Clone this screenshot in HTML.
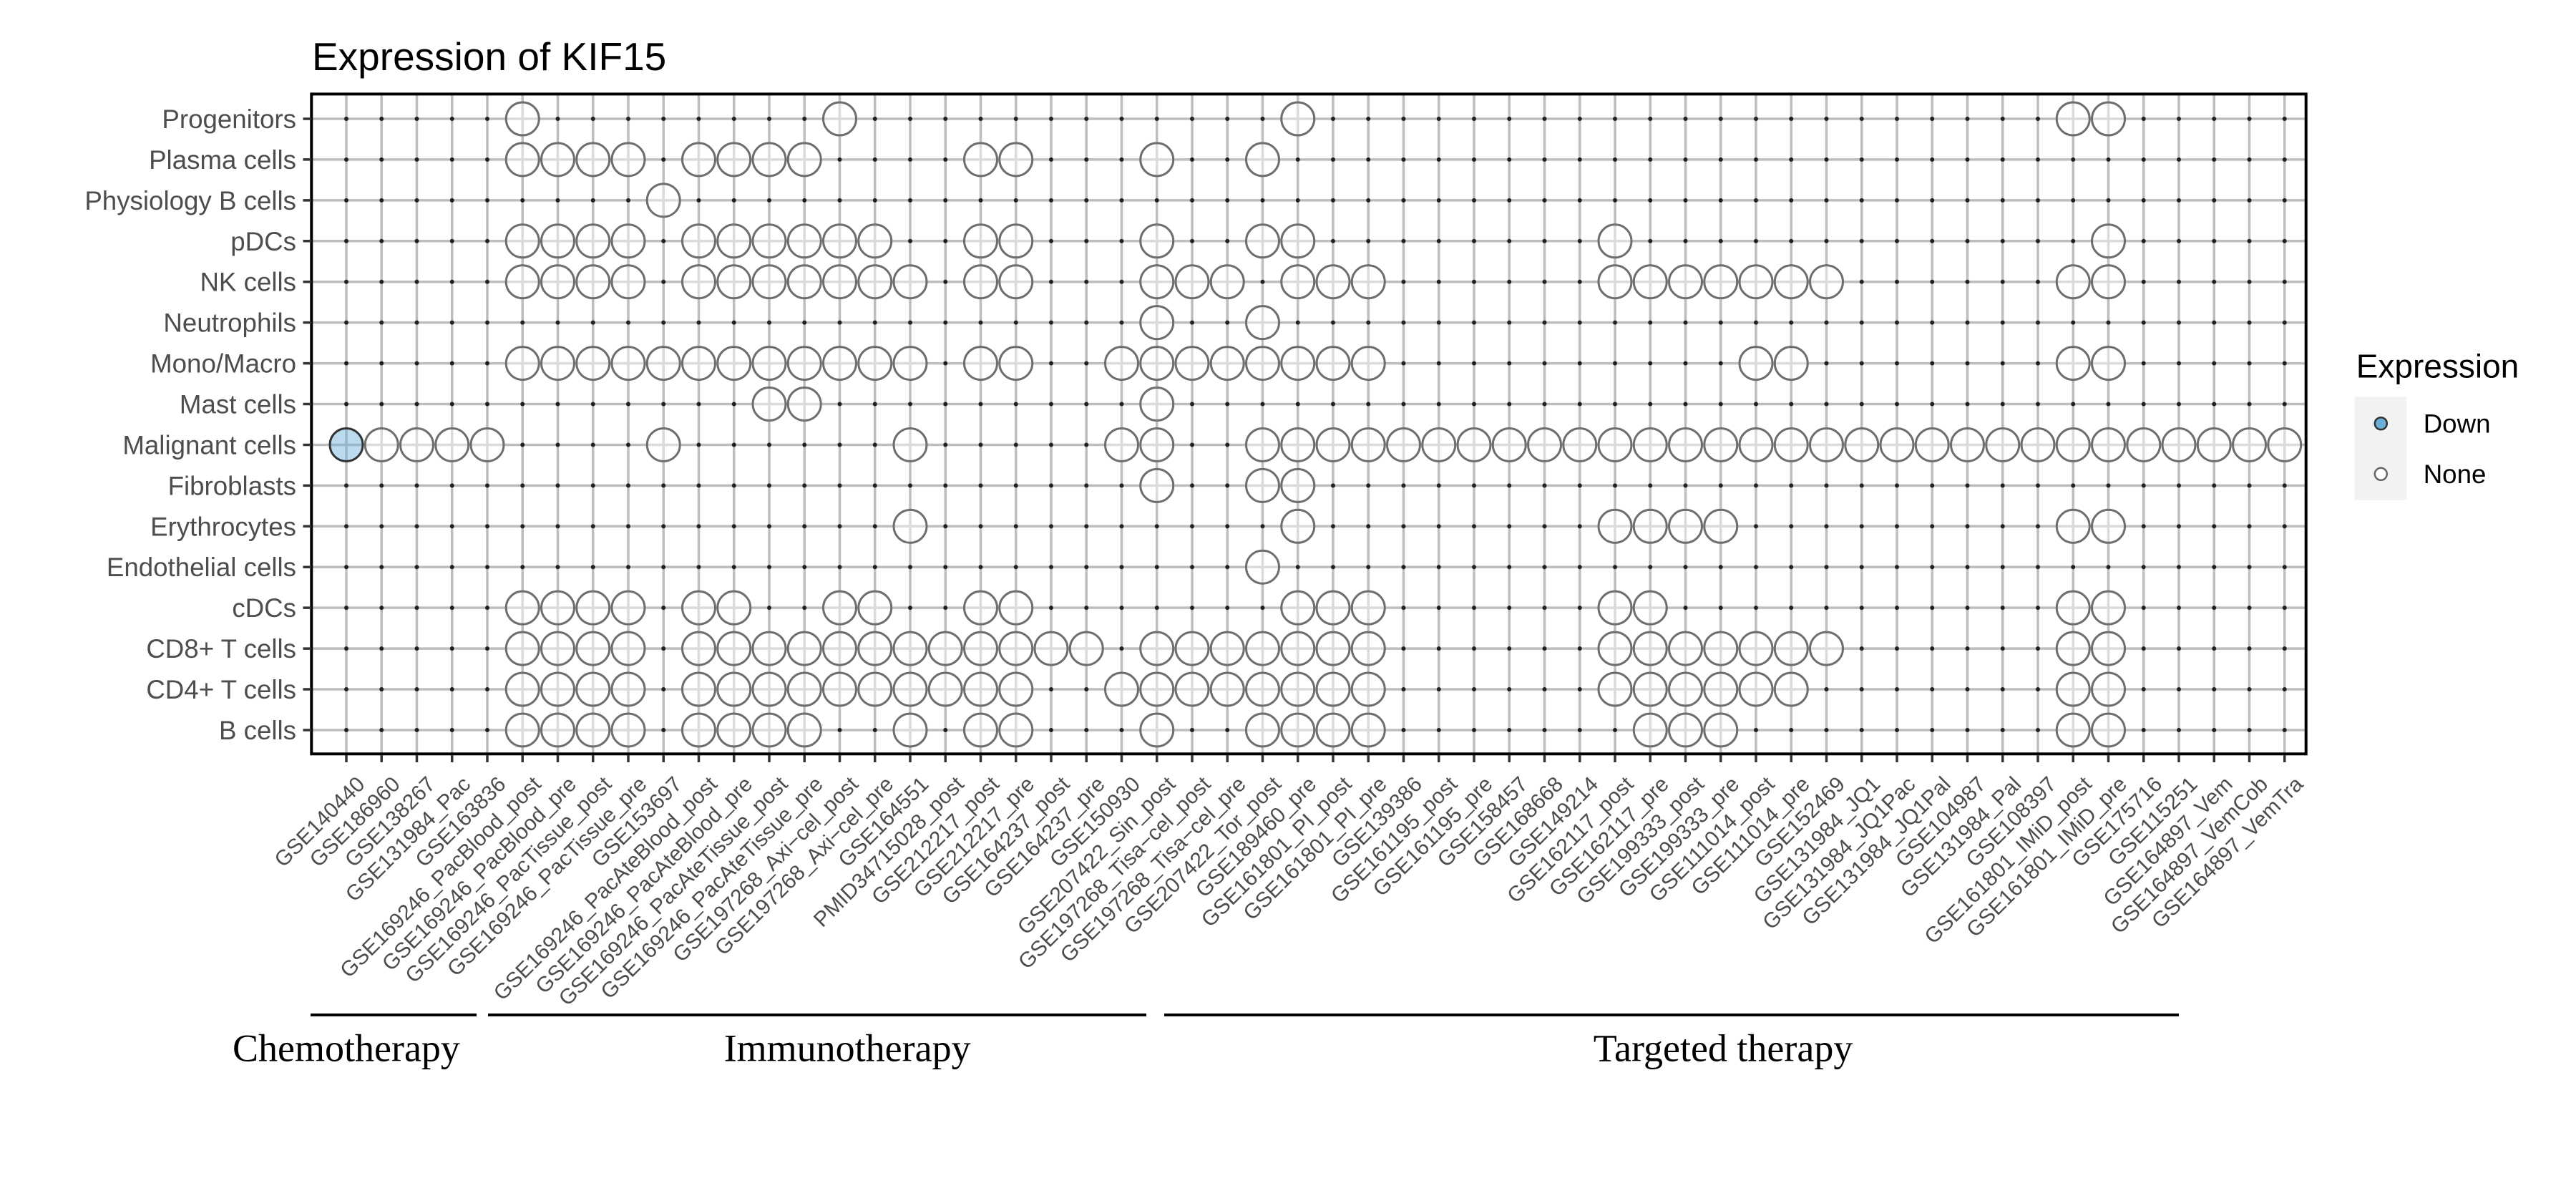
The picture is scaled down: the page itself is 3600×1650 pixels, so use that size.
<!DOCTYPE html>
<html><head><meta charset="utf-8"><style>
html,body{margin:0;padding:0;background:#fff;}
svg{display:block;}
text{font-family:"Liberation Sans",Arial,sans-serif;}
.yl{font-size:36.7px;fill:#4d4d4d;text-anchor:end;}
.xl{font-size:30px;fill:#4d4d4d;text-anchor:end;}
.grp{font-family:"Liberation Serif","Times New Roman",serif;font-size:54px;fill:#000;}
</style></head><body>
<svg width="3600" height="1650" viewBox="0 0 3600 1650" xmlns="http://www.w3.org/2000/svg">
<defs>
<pattern id="dots" patternUnits="userSpaceOnUse" x="459.375" y="137.535" width="49.25" height="56.93">
<circle cx="24.625" cy="28.465" r="3" fill="#1f1f1f"/>
</pattern>
<g id="n"><circle r="4.8" fill="#fff"/><path d="M-6 0H6M0 -6V6" stroke="#bebebe" stroke-width="3.5"/><circle r="23" fill="#fff" fill-opacity="0.45" stroke="#6e6e6e" stroke-width="3"/></g>
</defs>
<rect width="3600" height="1650" fill="#fff"/>
<text x="436" y="98" style="font-size:55px;fill:#000">Expression of KIF15</text>

<!-- grid -->
<path stroke="#bebebe" stroke-width="3.5" fill="none" d="M484 131V1053M533.25 131V1053M582.5 131V1053M631.75 131V1053M681 131V1053M730.25 131V1053M779.5 131V1053M828.75 131V1053M878 131V1053M927.25 131V1053M976.5 131V1053M1025.75 131V1053M1075 131V1053M1124.25 131V1053M1173.5 131V1053M1222.75 131V1053M1272 131V1053M1321.25 131V1053M1370.5 131V1053M1419.75 131V1053M1469 131V1053M1518.25 131V1053M1567.5 131V1053M1616.75 131V1053M1666 131V1053M1715.25 131V1053M1764.5 131V1053M1813.75 131V1053M1863 131V1053M1912.25 131V1053M1961.5 131V1053M2010.75 131V1053M2060 131V1053M2109.25 131V1053M2158.5 131V1053M2207.75 131V1053M2257 131V1053M2306.25 131V1053M2355.5 131V1053M2404.75 131V1053M2454 131V1053M2503.25 131V1053M2552.5 131V1053M2601.75 131V1053M2651 131V1053M2700.25 131V1053M2749.5 131V1053M2798.75 131V1053M2848 131V1053M2897.25 131V1053M2946.5 131V1053M2995.75 131V1053M3045 131V1053M3094.25 131V1053M3143.5 131V1053M3192.75 131V1053
M435 166H3223M435 222.93H3223M435 279.86H3223M435 336.79H3223M435 393.72H3223M435 450.65H3223M435 507.58H3223M435 564.51H3223M435 621.44H3223M435 678.37H3223M435 735.3H3223M435 792.23H3223M435 849.16H3223M435 906.09H3223M435 963.02H3223M435 1019.95H3223"/>
<rect x="459.375" y="137.535" width="2758" height="910.88" fill="url(#dots)"/>

<!-- points -->
<g transform="translate(0,166)"><use href="#n" x="730.25"/><use href="#n" x="1173.5"/><use href="#n" x="1813.75"/><use href="#n" x="2897.25"/><use href="#n" x="2946.5"/></g>
<g transform="translate(0,222.93)"><use href="#n" x="730.25"/><use href="#n" x="779.5"/><use href="#n" x="828.75"/><use href="#n" x="878"/><use href="#n" x="976.5"/><use href="#n" x="1025.75"/><use href="#n" x="1075"/><use href="#n" x="1124.25"/><use href="#n" x="1370.5"/><use href="#n" x="1419.75"/><use href="#n" x="1616.75"/><use href="#n" x="1764.5"/></g>
<g transform="translate(0,279.86)"><use href="#n" x="927.25"/></g>
<g transform="translate(0,336.79)"><use href="#n" x="730.25"/><use href="#n" x="779.5"/><use href="#n" x="828.75"/><use href="#n" x="878"/><use href="#n" x="976.5"/><use href="#n" x="1025.75"/><use href="#n" x="1075"/><use href="#n" x="1124.25"/><use href="#n" x="1173.5"/><use href="#n" x="1222.75"/><use href="#n" x="1370.5"/><use href="#n" x="1419.75"/><use href="#n" x="1616.75"/><use href="#n" x="1764.5"/><use href="#n" x="1813.75"/><use href="#n" x="2257"/><use href="#n" x="2946.5"/></g>
<g transform="translate(0,393.72)"><use href="#n" x="730.25"/><use href="#n" x="779.5"/><use href="#n" x="828.75"/><use href="#n" x="878"/><use href="#n" x="976.5"/><use href="#n" x="1025.75"/><use href="#n" x="1075"/><use href="#n" x="1124.25"/><use href="#n" x="1173.5"/><use href="#n" x="1222.75"/><use href="#n" x="1272"/><use href="#n" x="1370.5"/><use href="#n" x="1419.75"/><use href="#n" x="1616.75"/><use href="#n" x="1666"/><use href="#n" x="1715.25"/><use href="#n" x="1813.75"/><use href="#n" x="1863"/><use href="#n" x="1912.25"/><use href="#n" x="2257"/><use href="#n" x="2306.25"/><use href="#n" x="2355.5"/><use href="#n" x="2404.75"/><use href="#n" x="2454"/><use href="#n" x="2503.25"/><use href="#n" x="2552.5"/><use href="#n" x="2897.25"/><use href="#n" x="2946.5"/></g>
<g transform="translate(0,450.65)"><use href="#n" x="1616.75"/><use href="#n" x="1764.5"/></g>
<g transform="translate(0,507.58)"><use href="#n" x="730.25"/><use href="#n" x="779.5"/><use href="#n" x="828.75"/><use href="#n" x="878"/><use href="#n" x="927.25"/><use href="#n" x="976.5"/><use href="#n" x="1025.75"/><use href="#n" x="1075"/><use href="#n" x="1124.25"/><use href="#n" x="1173.5"/><use href="#n" x="1222.75"/><use href="#n" x="1272"/><use href="#n" x="1370.5"/><use href="#n" x="1419.75"/><use href="#n" x="1567.5"/><use href="#n" x="1616.75"/><use href="#n" x="1666"/><use href="#n" x="1715.25"/><use href="#n" x="1764.5"/><use href="#n" x="1813.75"/><use href="#n" x="1863"/><use href="#n" x="1912.25"/><use href="#n" x="2454"/><use href="#n" x="2503.25"/><use href="#n" x="2897.25"/><use href="#n" x="2946.5"/></g>
<g transform="translate(0,564.51)"><use href="#n" x="1075"/><use href="#n" x="1124.25"/><use href="#n" x="1616.75"/></g>
<g transform="translate(0,621.44)"><use href="#n" x="533.25"/><use href="#n" x="582.5"/><use href="#n" x="631.75"/><use href="#n" x="681"/><use href="#n" x="927.25"/><use href="#n" x="1272"/><use href="#n" x="1567.5"/><use href="#n" x="1616.75"/><use href="#n" x="1764.5"/><use href="#n" x="1813.75"/><use href="#n" x="1863"/><use href="#n" x="1912.25"/><use href="#n" x="1961.5"/><use href="#n" x="2010.75"/><use href="#n" x="2060"/><use href="#n" x="2109.25"/><use href="#n" x="2158.5"/><use href="#n" x="2207.75"/><use href="#n" x="2257"/><use href="#n" x="2306.25"/><use href="#n" x="2355.5"/><use href="#n" x="2404.75"/><use href="#n" x="2454"/><use href="#n" x="2503.25"/><use href="#n" x="2552.5"/><use href="#n" x="2601.75"/><use href="#n" x="2651"/><use href="#n" x="2700.25"/><use href="#n" x="2749.5"/><use href="#n" x="2798.75"/><use href="#n" x="2848"/><use href="#n" x="2897.25"/><use href="#n" x="2946.5"/><use href="#n" x="2995.75"/><use href="#n" x="3045"/><use href="#n" x="3094.25"/><use href="#n" x="3143.5"/><use href="#n" x="3192.75"/>
<circle cx="484" r="4.8" fill="#fff"/><path d="M478 0H490M484 -6V6" stroke="#bebebe" stroke-width="3.5"/><circle cx="484" r="23" fill="#6baed6" fill-opacity="0.45" stroke="#333" stroke-width="3"/></g>
<g transform="translate(0,678.37)"><use href="#n" x="1616.75"/><use href="#n" x="1764.5"/><use href="#n" x="1813.75"/></g>
<g transform="translate(0,735.3)"><use href="#n" x="1272"/><use href="#n" x="1813.75"/><use href="#n" x="2257"/><use href="#n" x="2306.25"/><use href="#n" x="2355.5"/><use href="#n" x="2404.75"/><use href="#n" x="2897.25"/><use href="#n" x="2946.5"/></g>
<g transform="translate(0,792.23)"><use href="#n" x="1764.5"/></g>
<g transform="translate(0,849.16)"><use href="#n" x="730.25"/><use href="#n" x="779.5"/><use href="#n" x="828.75"/><use href="#n" x="878"/><use href="#n" x="976.5"/><use href="#n" x="1025.75"/><use href="#n" x="1173.5"/><use href="#n" x="1222.75"/><use href="#n" x="1370.5"/><use href="#n" x="1419.75"/><use href="#n" x="1813.75"/><use href="#n" x="1863"/><use href="#n" x="1912.25"/><use href="#n" x="2257"/><use href="#n" x="2306.25"/><use href="#n" x="2897.25"/><use href="#n" x="2946.5"/></g>
<g transform="translate(0,906.09)"><use href="#n" x="730.25"/><use href="#n" x="779.5"/><use href="#n" x="828.75"/><use href="#n" x="878"/><use href="#n" x="976.5"/><use href="#n" x="1025.75"/><use href="#n" x="1075"/><use href="#n" x="1124.25"/><use href="#n" x="1173.5"/><use href="#n" x="1222.75"/><use href="#n" x="1272"/><use href="#n" x="1321.25"/><use href="#n" x="1370.5"/><use href="#n" x="1419.75"/><use href="#n" x="1469"/><use href="#n" x="1518.25"/><use href="#n" x="1616.75"/><use href="#n" x="1666"/><use href="#n" x="1715.25"/><use href="#n" x="1764.5"/><use href="#n" x="1813.75"/><use href="#n" x="1863"/><use href="#n" x="1912.25"/><use href="#n" x="2257"/><use href="#n" x="2306.25"/><use href="#n" x="2355.5"/><use href="#n" x="2404.75"/><use href="#n" x="2454"/><use href="#n" x="2503.25"/><use href="#n" x="2552.5"/><use href="#n" x="2897.25"/><use href="#n" x="2946.5"/></g>
<g transform="translate(0,963.02)"><use href="#n" x="730.25"/><use href="#n" x="779.5"/><use href="#n" x="828.75"/><use href="#n" x="878"/><use href="#n" x="976.5"/><use href="#n" x="1025.75"/><use href="#n" x="1075"/><use href="#n" x="1124.25"/><use href="#n" x="1173.5"/><use href="#n" x="1222.75"/><use href="#n" x="1272"/><use href="#n" x="1321.25"/><use href="#n" x="1370.5"/><use href="#n" x="1419.75"/><use href="#n" x="1567.5"/><use href="#n" x="1616.75"/><use href="#n" x="1666"/><use href="#n" x="1715.25"/><use href="#n" x="1764.5"/><use href="#n" x="1813.75"/><use href="#n" x="1863"/><use href="#n" x="1912.25"/><use href="#n" x="2257"/><use href="#n" x="2306.25"/><use href="#n" x="2355.5"/><use href="#n" x="2404.75"/><use href="#n" x="2454"/><use href="#n" x="2503.25"/><use href="#n" x="2897.25"/><use href="#n" x="2946.5"/></g>
<g transform="translate(0,1019.95)"><use href="#n" x="730.25"/><use href="#n" x="779.5"/><use href="#n" x="828.75"/><use href="#n" x="878"/><use href="#n" x="976.5"/><use href="#n" x="1025.75"/><use href="#n" x="1075"/><use href="#n" x="1124.25"/><use href="#n" x="1272"/><use href="#n" x="1370.5"/><use href="#n" x="1419.75"/><use href="#n" x="1616.75"/><use href="#n" x="1764.5"/><use href="#n" x="1813.75"/><use href="#n" x="1863"/><use href="#n" x="1912.25"/><use href="#n" x="2306.25"/><use href="#n" x="2355.5"/><use href="#n" x="2404.75"/><use href="#n" x="2897.25"/><use href="#n" x="2946.5"/></g>

<!-- panel border -->
<rect x="435.3" y="131.4" width="2787.4" height="921.9" fill="none" stroke="#000" stroke-width="4"/>

<!-- ticks -->
<path stroke="#333" stroke-width="3.5" fill="none" d="M423.5 166H435M423.5 222.93H435M423.5 279.86H435M423.5 336.79H435M423.5 393.72H435M423.5 450.65H435M423.5 507.58H435M423.5 564.51H435M423.5 621.44H435M423.5 678.37H435M423.5 735.3H435M423.5 792.23H435M423.5 849.16H435M423.5 906.09H435M423.5 963.02H435M423.5 1019.95H435
M484 1055V1065M533.25 1055V1065M582.5 1055V1065M631.75 1055V1065M681 1055V1065M730.25 1055V1065M779.5 1055V1065M828.75 1055V1065M878 1055V1065M927.25 1055V1065M976.5 1055V1065M1025.75 1055V1065M1075 1055V1065M1124.25 1055V1065M1173.5 1055V1065M1222.75 1055V1065M1272 1055V1065M1321.25 1055V1065M1370.5 1055V1065M1419.75 1055V1065M1469 1055V1065M1518.25 1055V1065M1567.5 1055V1065M1616.75 1055V1065M1666 1055V1065M1715.25 1055V1065M1764.5 1055V1065M1813.75 1055V1065M1863 1055V1065M1912.25 1055V1065M1961.5 1055V1065M2010.75 1055V1065M2060 1055V1065M2109.25 1055V1065M2158.5 1055V1065M2207.75 1055V1065M2257 1055V1065M2306.25 1055V1065M2355.5 1055V1065M2404.75 1055V1065M2454 1055V1065M2503.25 1055V1065M2552.5 1055V1065M2601.75 1055V1065M2651 1055V1065M2700.25 1055V1065M2749.5 1055V1065M2798.75 1055V1065M2848 1055V1065M2897.25 1055V1065M2946.5 1055V1065M2995.75 1055V1065M3045 1055V1065M3094.25 1055V1065M3143.5 1055V1065M3192.75 1055V1065"/>

<!-- y labels -->
<text class="yl" x="414" y="179">Progenitors</text>
<text class="yl" x="414" y="235.93">Plasma cells</text>
<text class="yl" x="414" y="292.86">Physiology B cells</text>
<text class="yl" x="414" y="349.79">pDCs</text>
<text class="yl" x="414" y="406.72">NK cells</text>
<text class="yl" x="414" y="463.65">Neutrophils</text>
<text class="yl" x="414" y="520.58">Mono/Macro</text>
<text class="yl" x="414" y="577.51">Mast cells</text>
<text class="yl" x="414" y="634.44">Malignant cells</text>
<text class="yl" x="414" y="691.37">Fibroblasts</text>
<text class="yl" x="414" y="748.3">Erythrocytes</text>
<text class="yl" x="414" y="805.23">Endothelial cells</text>
<text class="yl" x="414" y="862.16">cDCs</text>
<text class="yl" x="414" y="919.09">CD8+ T cells</text>
<text class="yl" x="414" y="976.02">CD4+ T cells</text>
<text class="yl" x="414" y="1032.95">B cells</text>

<!-- x labels -->
<g class="xl">
<text class="xl" transform="translate(511.5,1097.5) rotate(-45)">GSE140440</text>
<text class="xl" transform="translate(560.75,1097.5) rotate(-45)">GSE186960</text>
<text class="xl" transform="translate(610,1097.5) rotate(-45)">GSE138267</text>
<text class="xl" transform="translate(659.25,1097.5) rotate(-45)">GSE131984_Pac</text>
<text class="xl" transform="translate(708.5,1097.5) rotate(-45)">GSE163836</text>
<text class="xl" transform="translate(757.75,1097.5) rotate(-45)">GSE169246_PacBlood_post</text>
<text class="xl" transform="translate(807,1097.5) rotate(-45)">GSE169246_PacBlood_pre</text>
<text class="xl" transform="translate(856.25,1097.5) rotate(-45)">GSE169246_PacTissue_post</text>
<text class="xl" transform="translate(905.5,1097.5) rotate(-45)">GSE169246_PacTissue_pre</text>
<text class="xl" transform="translate(954.75,1097.5) rotate(-45)">GSE153697</text>
<text class="xl" transform="translate(1004,1097.5) rotate(-45)">GSE169246_PacAteBlood_post</text>
<text class="xl" transform="translate(1053.25,1097.5) rotate(-45)">GSE169246_PacAteBlood_pre</text>
<text class="xl" transform="translate(1102.5,1097.5) rotate(-45)">GSE169246_PacAteTissue_post</text>
<text class="xl" transform="translate(1151.75,1097.5) rotate(-45)">GSE169246_PacAteTissue_pre</text>
<text class="xl" transform="translate(1201,1097.5) rotate(-45)">GSE197268_Axi−cel_post</text>
<text class="xl" transform="translate(1250.25,1097.5) rotate(-45)">GSE197268_Axi−cel_pre</text>
<text class="xl" transform="translate(1299.5,1097.5) rotate(-45)">GSE164551</text>
<text class="xl" transform="translate(1348.75,1097.5) rotate(-45)">PMID34715028_post</text>
<text class="xl" transform="translate(1398,1097.5) rotate(-45)">GSE212217_post</text>
<text class="xl" transform="translate(1447.25,1097.5) rotate(-45)">GSE212217_pre</text>
<text class="xl" transform="translate(1496.5,1097.5) rotate(-45)">GSE164237_post</text>
<text class="xl" transform="translate(1545.75,1097.5) rotate(-45)">GSE164237_pre</text>
<text class="xl" transform="translate(1595,1097.5) rotate(-45)">GSE150930</text>
<text class="xl" transform="translate(1644.25,1097.5) rotate(-45)">GSE207422_Sin_post</text>
<text class="xl" transform="translate(1693.5,1097.5) rotate(-45)">GSE197268_Tisa−cel_post</text>
<text class="xl" transform="translate(1742.75,1097.5) rotate(-45)">GSE197268_Tisa−cel_pre</text>
<text class="xl" transform="translate(1792,1097.5) rotate(-45)">GSE207422_Tor_post</text>
<text class="xl" transform="translate(1841.25,1097.5) rotate(-45)">GSE189460_pre</text>
<text class="xl" transform="translate(1890.5,1097.5) rotate(-45)">GSE161801_PI_post</text>
<text class="xl" transform="translate(1939.75,1097.5) rotate(-45)">GSE161801_PI_pre</text>
<text class="xl" transform="translate(1989,1097.5) rotate(-45)">GSE139386</text>
<text class="xl" transform="translate(2038.25,1097.5) rotate(-45)">GSE161195_post</text>
<text class="xl" transform="translate(2087.5,1097.5) rotate(-45)">GSE161195_pre</text>
<text class="xl" transform="translate(2136.75,1097.5) rotate(-45)">GSE158457</text>
<text class="xl" transform="translate(2186,1097.5) rotate(-45)">GSE168668</text>
<text class="xl" transform="translate(2235.25,1097.5) rotate(-45)">GSE149214</text>
<text class="xl" transform="translate(2284.5,1097.5) rotate(-45)">GSE162117_post</text>
<text class="xl" transform="translate(2333.75,1097.5) rotate(-45)">GSE162117_pre</text>
<text class="xl" transform="translate(2383,1097.5) rotate(-45)">GSE199333_post</text>
<text class="xl" transform="translate(2432.25,1097.5) rotate(-45)">GSE199333_pre</text>
<text class="xl" transform="translate(2481.5,1097.5) rotate(-45)">GSE111014_post</text>
<text class="xl" transform="translate(2530.75,1097.5) rotate(-45)">GSE111014_pre</text>
<text class="xl" transform="translate(2580,1097.5) rotate(-45)">GSE152469</text>
<text class="xl" transform="translate(2629.25,1097.5) rotate(-45)">GSE131984_JQ1</text>
<text class="xl" transform="translate(2678.5,1097.5) rotate(-45)">GSE131984_JQ1Pac</text>
<text class="xl" transform="translate(2727.75,1097.5) rotate(-45)">GSE131984_JQ1Pal</text>
<text class="xl" transform="translate(2777,1097.5) rotate(-45)">GSE104987</text>
<text class="xl" transform="translate(2826.25,1097.5) rotate(-45)">GSE131984_Pal</text>
<text class="xl" transform="translate(2875.5,1097.5) rotate(-45)">GSE108397</text>
<text class="xl" transform="translate(2924.75,1097.5) rotate(-45)">GSE161801_IMiD_post</text>
<text class="xl" transform="translate(2974,1097.5) rotate(-45)">GSE161801_IMiD_pre</text>
<text class="xl" transform="translate(3023.25,1097.5) rotate(-45)">GSE175716</text>
<text class="xl" transform="translate(3072.5,1097.5) rotate(-45)">GSE115251</text>
<text class="xl" transform="translate(3121.75,1097.5) rotate(-45)">GSE164897_Vem</text>
<text class="xl" transform="translate(3171,1097.5) rotate(-45)">GSE164897_VemCob</text>
<text class="xl" transform="translate(3220.25,1097.5) rotate(-45)">GSE164897_VemTra</text>
</g>

<!-- legend -->
<text x="3292.7" y="527.3" style="font-size:46px;fill:#000">Expression</text>
<rect x="3290.7" y="554.3" width="72.6" height="144.4" fill="#f2f2f2"/>
<circle cx="3327.3" cy="591.7" r="8.5" fill="#6baed6" stroke="#333" stroke-width="2.5"/>
<circle cx="3327.3" cy="662.3" r="8.5" fill="#fff" stroke="#666" stroke-width="2.5"/>
<text x="3386.7" y="604.5" style="font-size:36.7px;fill:#000">Down</text>
<text x="3386.7" y="675" style="font-size:36.7px;fill:#000">None</text>

<!-- group annotations -->
<path stroke="#000" stroke-width="4" fill="none" d="M434 1418H666M682 1418H1602M1627 1418H3045"/>
<text class="grp" x="325" y="1482.5">Chemotherapy</text>
<text class="grp" x="1011.7" y="1482.5">Immunotherapy</text>
<text class="grp" x="2226.8" y="1482.5">Targeted therapy</text>
</svg>
</body></html>
